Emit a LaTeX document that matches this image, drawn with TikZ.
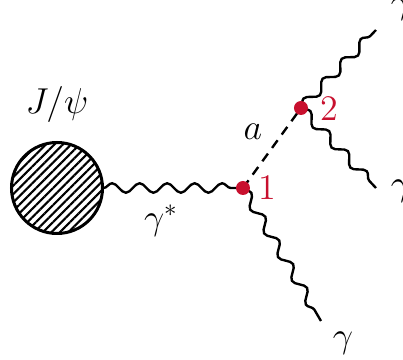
\documentclass[tikz,border=0pt]{standalone}
\usepackage{amsmath}
\usepackage{tikz}
\usetikzlibrary{positioning,decorations.pathmorphing,patterns.meta,backgrounds}
\definecolor{vtxred}{RGB}{200,16,46}

\begin{document}
\begin{tikzpicture}[
  x=0.4pt, y=-0.4pt,
  photon/.style={decorate, line width=0.95pt,
               decoration={snake, amplitude=1.9pt, segment length=11pt}},
  scalar/.style={line width=0.95pt, dash pattern=on 3.8pt off 2.8pt},
  vertex/.style={circle, fill=vtxred, inner sep=0pt, minimum size=5.6pt},
  blob/.style={circle, draw, line width=1.2pt, minimum size=36.4pt,
               pattern={Lines[angle=45, distance=2.4pt, line width=0.85pt]}},
  lbl/.style={font=\Large},
  num/.style={font=\Large, text=vtxred}
]
  \useasboundingbox (0,0) rectangle (403,360);

  \node[blob] (jpsi) at (57,188) {};
  \node[vertex] (v1) at (243,188) {};
  \node[vertex] (v2) at (301,108) {};
  \coordinate (g1) at (321,321);
  \coordinate (g2) at (376,30);
  \coordinate (g3) at (376,188);

  \begin{scope}[on background layer]
    \draw[photon] (jpsi.east) -- (v1.center);
    \draw[scalar] (v1.center) -- (v2.center);
    \draw[photon] (v1.center) -- (g1);
    \draw[photon] (v2.center) -- (g2);
    \draw[photon] (v2.center) -- (g3);
  \end{scope}

  \node[lbl] (jpsilbl) at (57,105) {$J/\psi$};
  \node[lbl] (gstar) at (161,221) {$\gamma^*$};
  \node[lbl] (albl) at (253,132) {$a$};
  \node[num] (n1) at (267,188) {1};
  \node[num] (n2) at (329,109) {2};
  \node[lbl] (gam1) at (343,343) {$\gamma$};
  \node[lbl] (gam2) at (401,9) {$\gamma$};
  \node[lbl] (gam3) at (401,191) {$\gamma$};
\end{tikzpicture}
\end{document}
